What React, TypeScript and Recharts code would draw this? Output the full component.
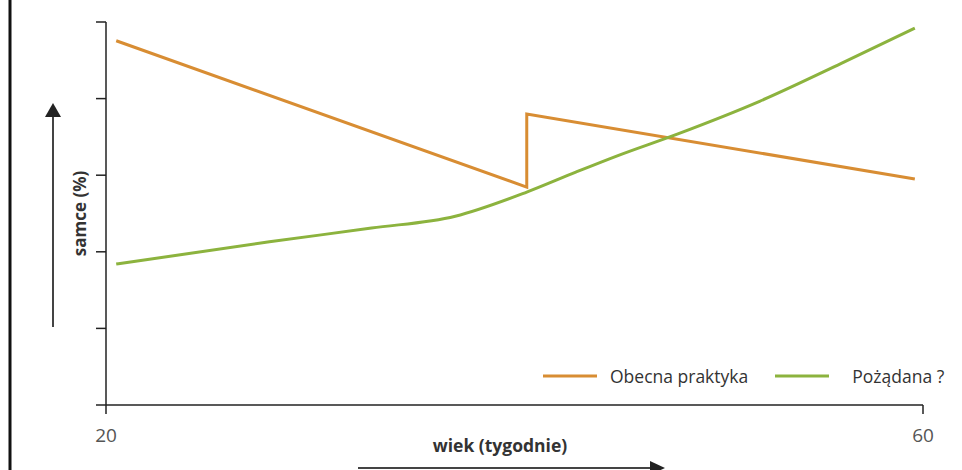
import { LineChart, Line, XAxis, YAxis, Legend } from 'recharts'

// tygodnie / % samców
const obecnaWeeks = [20.5, 40.6, 40.6, 59.6]
const obecnaValues = [95.1, 56.9, 76.0, 59.0]

const pozadanaWeeks = [20.5, 28, 33, 37.1, 40.6, 43, 45, 48, 52, 56, 59.6]
const pozadanaValues = [36.8, 42.6, 46.2, 49.3, 55.6, 60.8, 65.0, 70.8, 79.3, 89.2, 98.4]

const xTicks = [20, 60]
const yTicks = [0, 20, 40, 60, 80, 100]

const ORANGE = '#D88D33'
const GREEN = '#8CB33E'
const FONT = '"Open Sans", "Noto Sans", sans-serif'

const obecna = obecnaWeeks.map((w, i) => ({ week: w, value: obecnaValues[i] }))
const pozadana = pozadanaWeeks.map((w, i) => ({ week: w, value: pozadanaValues[i] }))

function LegendContent({ payload }: any) {
  return (
    <div
      style={{
        display: 'flex',
        alignItems: 'center',
        whiteSpace: 'nowrap',
        width: 420,
        fontFamily: FONT,
        fontSize: 17.5,
        color: '#333',
      }}
    >
      {(payload || []).map((p: any, i: number) => (
        <div key={p.value} style={{ display: 'flex', alignItems: 'center', flexShrink: 0, marginRight: 27 }}>
          <svg width={54} height={4} style={{ marginRight: i === 0 ? 13 : 23, flexShrink: 0 }}>
            <line x1={0} y1={2} x2={54} y2={2} stroke={p.color} strokeWidth={3} />
          </svg>
          <span>{p.value}</span>
        </div>
      ))}
    </div>
  )
}

export default function App() {
  return (
    <div style={{ position: 'absolute', left: 0, top: 0, width: 962, height: 470, background: '#fff', overflow: 'hidden' }}>
      <LineChart width={962} height={470} margin={{ top: 22, right: 39, bottom: 35, left: 96 }}>
        <XAxis
          type="number"
          dataKey="week"
          domain={[20, 60]}
          ticks={xTicks}
          height={30}
          tickSize={9}
          tickMargin={15}
          stroke="#222"
          strokeWidth={1.5}
          tick={{ fill: '#555', fontSize: 19, fontFamily: FONT }}
          label={({ viewBox }: any) => (
            <text
              x={viewBox.x + 394}
              y={viewBox.y + 47}
              textAnchor="middle"
              fontFamily={FONT}
              fontSize={17.5}
              fontWeight="bold"
              fill="#333"
            >
              wiek (tygodnie)
            </text>
          )}
        />
        <YAxis
          type="number"
          domain={[0, 100]}
          ticks={yTicks}
          width={10}
          tickSize={10}
          stroke="#222"
          strokeWidth={1.5}
          tickFormatter={() => ''}
          label={({ viewBox }: any) => {
            const cx = viewBox.x - 17
            const cy = viewBox.y + viewBox.height / 2
            return (
              <text
                x={cx}
                y={cy}
                transform={`rotate(-90, ${cx}, ${cy})`}
                textAnchor="middle"
                dominantBaseline="central"
                fontFamily={FONT}
                fontSize={17}
                fontWeight="bold"
                fill="#333"
              >
                samce (%)
              </text>
            )
          }}
        />
        <Legend
          verticalAlign="middle"
          align="center"
          content={<LegendContent />}
          wrapperStyle={{ position: 'absolute', left: 543, top: 364, width: 420, height: 'auto' }}
        />
        <Line
          data={obecna}
          dataKey="value"
          name="Obecna praktyka"
          type="linear"
          stroke={ORANGE}
          strokeWidth={3}
          dot={false}
          isAnimationActive={false}
        />
        <Line
          data={pozadana}
          dataKey="value"
          name="Pożądana ?"
          type="monotone"
          stroke={GREEN}
          strokeWidth={3}
          dot={false}
          isAnimationActive={false}
        />
      </LineChart>
      <svg
        width={962}
        height={470}
        style={{ position: 'absolute', left: 0, top: 0, pointerEvents: 'none' }}
      >
        <line x1={10} y1={0} x2={10} y2={470} stroke="#111" strokeWidth={3} />
        <line x1={53} y1={327} x2={53} y2={114} stroke="#444" strokeWidth={2} />
        <polygon points="45,117 61,117 53,103" fill="#222" />
        <line x1={358} y1={468} x2={652} y2={468} stroke="#444" strokeWidth={2} />
        <polygon points="650,461 650,475 665,468" fill="#222" />
      </svg>
    </div>
  )
}
